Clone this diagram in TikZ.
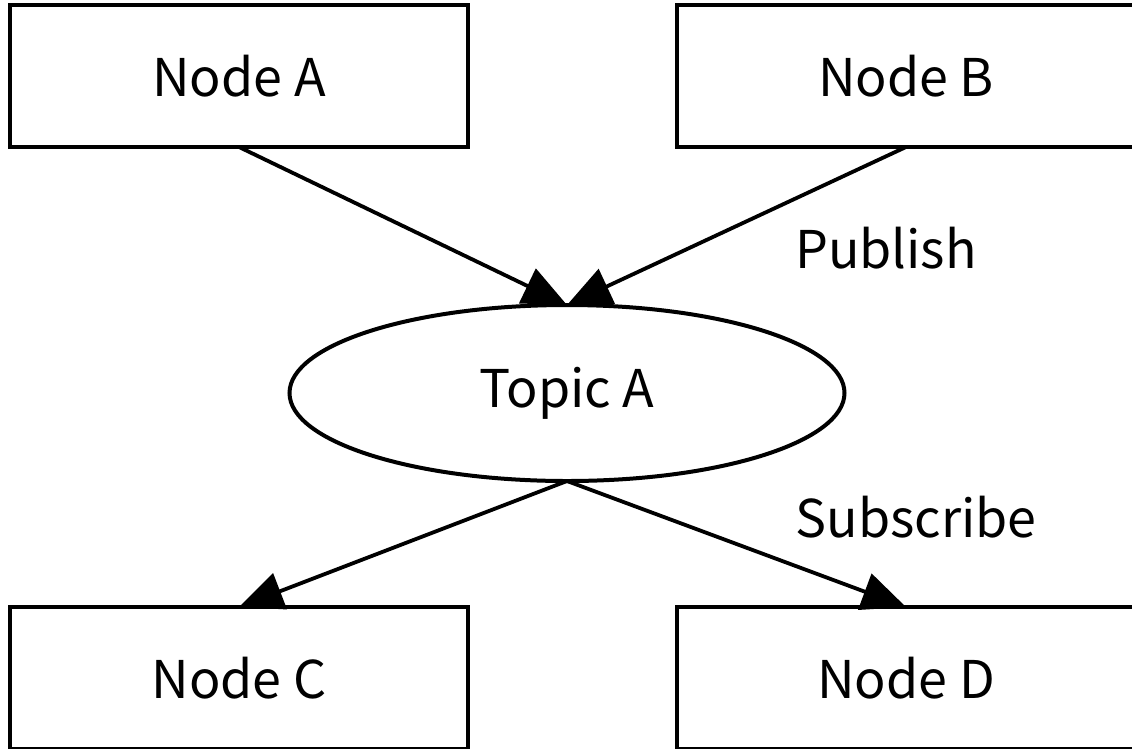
\documentclass[tikz,border=0pt]{standalone}
\usepackage{fontspec}
\setmainfont{Noto Sans CJK JP}
\usetikzlibrary{arrows.meta,shapes.geometric}
\begin{document}
\begin{tikzpicture}[x=1pt,y=-1pt,
  txt/.style={font=\fontsize{52}{60}\selectfont},
  box/.style={draw,line width=4.5pt,rectangle,minimum width=458pt,minimum height=142pt,inner sep=0pt,outer sep=0pt,txt},
  topic/.style={draw,line width=4pt,ellipse,minimum width=555pt,minimum height=176pt,inner sep=0pt,outer sep=0pt,txt},
  conn/.style={line width=3.8pt,-{Triangle[length=44pt,width=38pt]}},
  lbl/.style={txt,inner sep=0pt}]
\useasboundingbox (0,0) rectangle (1132,748);
\clip (0,0) rectangle (1132,748);
\node[box] (A) at (239,76) {Node A};
\node[box] (B) at (906,76) {Node B};
\node[box] (C) at (239,678) {Node C};
\node[box] (D) at (906,678) {Node D};
\node[topic] (T) at (567,393) {Topic A};
\draw[conn] (A.south) -- (T.north);
\draw[conn] (B.south) -- (T.north);
\draw[conn] (T.south) -- (C.north);
\draw[conn] (T.south) -- (D.north);
\node[lbl] (pub) at (886,248) {Publish};
\node[lbl] (sub) at (916,517) {Subscribe};
\end{tikzpicture}
\end{document}
